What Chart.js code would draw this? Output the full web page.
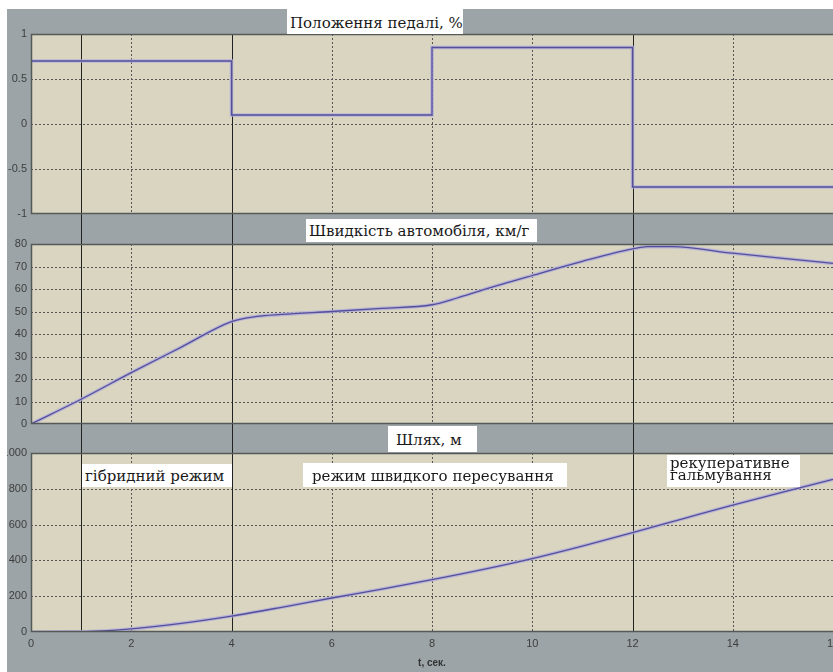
<!DOCTYPE html>
<html>
<head>
<meta charset="utf-8">
<title>Режими руху автомобіля</title>
<script src="https://cdn.jsdelivr.net/npm/chart.js@4.4.1/dist/chart.umd.min.js"></script>
<style>
  html, body { margin: 0; padding: 0; background: #fff; }
  #page { position: relative; width: 833px; height: 672px; overflow: hidden; background: #fff; }
  #frame { position: absolute; left: 7px; top: 9px; width: 826px; height: 663px; background: #9ca4a7; overflow: hidden; }
  #frame canvas { position: absolute; left: -7px; }
  .tag {
    position: absolute; background: #fff; color: #1a1a1a;
    font-family: "DejaVu Serif", "Liberation Serif", serif; font-size: 15px; line-height: 20px;
    white-space: nowrap; box-sizing: border-box; padding-left: 3px;
  }
</style>
</head>
<body>
<div id="page">
  <div id="frame">
    <canvas id="pedalChart" width="833" height="229" style="top:-9px"></canvas>
    <canvas id="speedChart" width="833" height="209" style="top:220px"></canvas>
    <canvas id="pathChart" width="833" height="234" style="top:429px"></canvas>
  </div>
  <div class="tag" style="left:287px;top:9px;width:176px;height:25px;padding-top:4px">Положення педалі, %</div>
  <div class="tag" style="left:306px;top:219px;width:231px;height:23px;padding-top:2px">Швидкість автомобіля, км/г</div>
  <div class="tag" style="left:388px;top:426px;width:89px;height:26px;padding-top:4px;padding-left:8px">Шлях, м</div>
  <div class="tag" style="left:82px;top:464px;width:150px;height:23px;padding-top:2px">гібридний режим</div>
  <div class="tag" style="left:303px;top:463px;width:264px;height:24px;padding-top:3px;padding-left:9px">режим швидкого пересування</div>
  <div class="tag" style="left:667px;top:455px;width:133px;height:32px;line-height:12px;padding-top:2px">рекуперативне<br>гальмування</div>
</div>
<script>
// Time axis, seconds
const timeMin = 0;
const timeMax = 16;
const timeStep = 2;

// Moments where the drive mode changes (hybrid / fast travel / regenerative braking)
const modeBoundaries = [1, 4, 12];

// Accelerator pedal position
const pedalTime = [0, 4, 4, 8, 8, 12, 12, 16];
const pedalPosition = [0.7, 0.7, 0.1, 0.1, 0.85, 0.85, -0.7, -0.7];

// Vehicle speed, km/h
const speedTime = [0, 1, 2, 3, 4, 4.5, 5, 6, 7, 8, 8.5, 9, 10, 11, 12, 12.3, 12.8, 14, 15, 16];
const speedKmh = [0, 11, 22.8, 34.2, 45.5, 47.8, 48.7, 50, 51.4, 53, 56, 59.5, 66, 72.3, 77.8, 78.8, 78.8, 75.9, 73.6, 71.4];

// Distance travelled, m
const pathTime = [0, 1, 2, 3, 4, 5, 6, 7, 8, 9, 10, 11, 12, 13, 14, 15, 16];
const pathMetres = [0, 1, 17, 48, 89, 138, 190, 240, 292, 348, 410, 480, 555, 632, 709, 782, 853];

// Y axis ranges and tick steps
const pedalTicks = { min: -1, max: 1, step: 0.5 };
const speedTicks = { min: 0, max: 80, step: 10 };
const pathTicks = { min: 0, max: 1000, step: 200 };

const toPoints = (xs, ys) => xs.map((x, i) => ({ x, y: ys[i] }));

const PLOT_BG = '#d9d5c1';
const TICK_FONT = { family: '"Liberation Sans Narrow", "Liberation Sans", Arial, sans-serif', size: 11 };

// Plot background, dotted grid, mode boundary lines and panel frame
const panelDecor = {
  id: 'panelDecor',
  beforeDraw(chart) {
    const { ctx, chartArea: a } = chart;
    ctx.save();
    ctx.fillStyle = PLOT_BG;
    ctx.fillRect(a.left, a.top, a.right - a.left, a.bottom - a.top);
    ctx.restore();
  },
  beforeDatasetsDraw(chart, args, opts) {
    const { ctx, chartArea: a } = chart;
    const xs = chart.scales.x;
    const ys = chart.scales.y;
    ctx.save();
    // dotted grid at every tick
    ctx.strokeStyle = '#565656';
    ctx.lineWidth = 1;
    ctx.setLineDash([2, 2]);
    for (const t of xs.ticks) {
      const px = Math.round(xs.getPixelForValue(t.value)) + 0.5;
      if (px <= a.left + 1 || px >= a.right - 1) continue;
      ctx.beginPath();
      ctx.moveTo(px, a.top);
      ctx.lineTo(px, a.bottom);
      ctx.stroke();
    }
    for (const t of ys.ticks) {
      const py = Math.round(ys.getPixelForValue(t.value)) + 0.5;
      if (py <= a.top + 1 || py >= a.bottom - 1) continue;
      ctx.beginPath();
      ctx.moveTo(a.left, py);
      ctx.lineTo(a.right, py);
      ctx.stroke();
    }
    // solid mode boundaries running through the panel gaps
    ctx.setLineDash([]);
    ctx.strokeStyle = '#222';
    const y0 = opts.extendUp ? 0 : a.top;
    const y1 = opts.extendDown ? chart.height : a.bottom;
    for (const t of opts.marks) {
      const px = Math.round(xs.getPixelForValue(t)) + 0.5;
      ctx.beginPath();
      ctx.moveTo(px, y0);
      ctx.lineTo(px, y1);
      ctx.stroke();
    }
    ctx.restore();
  },
  afterDatasetsDraw(chart) {
    const { ctx, chartArea: a } = chart;
    ctx.save();
    ctx.strokeStyle = '#555a58';
    ctx.lineWidth = 1.5;
    ctx.strokeRect(a.left + 0.5, a.top + 0.5, a.right - a.left + 4, a.bottom - a.top - 1);
    ctx.restore();
  }
};

function makePanel(canvasId, points, yr, cfg) {
  const grid = { display: false, drawTicks: false };
  const border = { display: false };
  const lineStyle = {
    pointRadius: 0,
    cubicInterpolationMode: cfg.smooth ? 'monotone' : 'default',
    tension: 0,
    fill: false
  };
  return new Chart(document.getElementById(canvasId), {
    type: 'line',
    data: {
      datasets: [
        Object.assign({ data: points, borderColor: '#534f9b', borderWidth: 1.3 }, lineStyle),
        Object.assign({ data: points, borderColor: 'rgba(178,172,218,0.8)', borderWidth: 3.6 }, lineStyle)
      ]
    },
    options: {
      responsive: false,
      animation: false,
      devicePixelRatio: 1,
      events: [],
      layout: { padding: { top: cfg.padTop, bottom: 0, left: 0, right: 0 } },
      plugins: {
        legend: { display: false },
        tooltip: { enabled: false },
        panelDecor: { marks: modeBoundaries, extendUp: cfg.extendUp, extendDown: cfg.extendDown }
      },
      scales: {
        x: {
          type: 'linear',
          min: timeMin,
          max: timeMax,
          grid,
          border,
          ticks: {
            display: cfg.showX,
            stepSize: timeStep,
            padding: 5,
            color: '#3e3e3e',
            font: TICK_FONT,
            maxRotation: 0,
            callback: v => String(v)
          },
          title: {
            display: cfg.showX,
            text: 't, сек.',
            color: '#333',
            font: { family: '"Liberation Sans", Arial, sans-serif', size: 10, weight: 'bold' },
            padding: { top: 0, bottom: 3 }
          },
          afterFit(scale) {
            scale.height = cfg.xHeight;
            scale.paddingLeft = 0;
            scale.paddingRight = 0;
          }
        },
        y: {
          min: yr.min,
          max: yr.max,
          grid,
          border,
          ticks: {
            stepSize: yr.step,
            padding: 4,
            color: '#3e3e3e',
            font: TICK_FONT,
            callback: v => String(v)
          },
          afterFit(scale) {
            scale.width = 31;
            scale.paddingTop = 0;
            scale.paddingBottom = 0;
          }
        }
      }
    },
    plugins: [panelDecor]
  });
}

makePanel('pedalChart', toPoints(pedalTime, pedalPosition), pedalTicks,
  { padTop: 34, xHeight: 15, showX: false, smooth: false, extendUp: false, extendDown: true });
makePanel('speedChart', toPoints(speedTime, speedKmh), speedTicks,
  { padTop: 15, xHeight: 14, showX: false, smooth: true, extendUp: true, extendDown: true });
makePanel('pathChart', toPoints(pathTime, pathMetres), pathTicks,
  { padTop: 15, xHeight: 40, showX: true, smooth: true, extendUp: true, extendDown: false });
</script>
</body>
</html>
